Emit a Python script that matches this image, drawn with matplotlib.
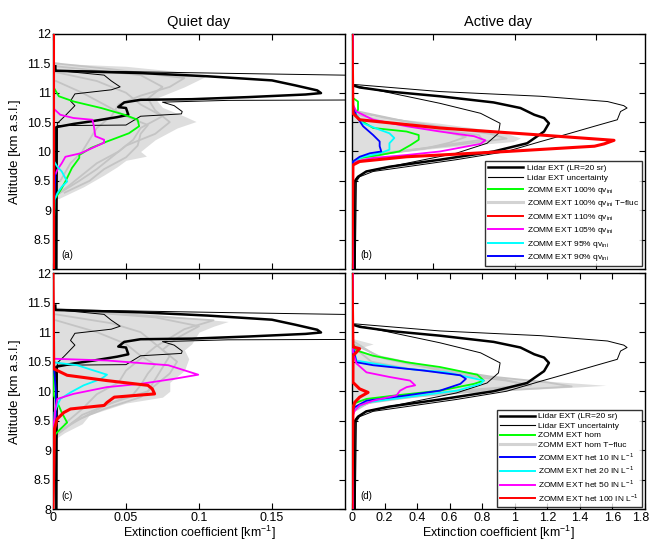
import matplotlib
matplotlib.use('Agg')
from matplotlib import pyplot as plt
import matplotlib.transforms as mtransforms
import numpy as np

plt.rcParams['font.family'] = ['Liberation Sans', 'DejaVu Sans']
plt.rcParams['mathtext.fontset'] = 'custom'
plt.rcParams['mathtext.rm'] = 'Liberation Sans'

# ---------------- quiet day: lidar (shared by a and c) ----------------
quiet_lidar_alt = [8.0, 10.415, 10.47, 10.52, 10.585, 10.625, 10.74, 10.756, 10.835, 10.88, 10.89,
                   10.926, 10.97, 10.994, 11.04, 11.125, 11.21, 11.28, 11.335, 11.375, 11.45]
quiet_lidar_ext = [0.0023, 0.0023, 0.0143, 0.028, 0.044, 0.0516, 0.050, 0.0447, 0.0488, 0.060, 0.095,
                   0.134, 0.173, 0.1836, 0.181, 0.166, 0.150, 0.106, 0.060, 0.0016, 0.0016]
quiet_unc_hi_alt = [8.0, 10.44, 10.45, 10.6, 10.64, 10.68, 10.78, 10.84, 10.87, 10.88, 11.0, 11.28, 11.33, 11.38, 11.45]
quiet_unc_hi_ext = [0.0025, 0.003, 0.05, 0.06, 0.088, 0.0885, 0.083, 0.075, 0.12, 0.25, 0.35, 0.25, 0.12, 0.002, 0.0016]
quiet_unc_lo_alt = [8.0, 10.48, 10.6, 10.78, 10.86, 10.98, 11.05, 11.1, 11.2, 11.3, 11.38]
quiet_unc_lo_ext = [0.002, 0.003, 0.008, 0.015, 0.012, 0.015, 0.040, 0.046, 0.040, 0.035, 0.002]

# ---------------- active day: lidar (shared by b and d) ----------------
active_lidar_alt = [8.0, 9.49, 9.57, 9.66, 9.74, 9.86, 10.0, 10.14, 10.34, 10.48, 10.57, 10.625,
                    10.74, 10.835, 10.94, 11.02, 11.09, 11.125]
active_lidar_ext = [0.016, 0.016, 0.037, 0.088, 0.23, 0.54, 0.87, 1.076, 1.18, 1.21, 1.18, 1.12,
                    1.035, 0.87, 0.54, 0.23, 0.047, 0.006]
active_unc_hi_alt = [8.0, 9.49, 9.57, 9.66, 9.74, 9.86, 10.0, 10.17, 10.31, 10.43, 10.54, 10.68,
                     10.74, 10.78, 10.85, 10.94, 11.02, 11.14]
active_unc_hi_ext = [0.02, 0.027, 0.047, 0.13, 0.335, 0.64, 0.95, 1.16, 1.34, 1.49, 1.63, 1.65,
                     1.69, 1.67, 1.57, 1.16, 0.54, 0.016]
active_unc_lo_alt = [8.0, 9.46, 9.545, 9.66, 9.80, 9.97, 10.14, 10.31, 10.48, 10.65, 10.82, 11.0, 11.125]
active_unc_lo_ext = [0.01, 0.016, 0.027, 0.088, 0.335, 0.64, 0.83, 0.90, 0.91, 0.79, 0.54, 0.23, 0.01]

# ---------------- (a) quiet day, qv_ini experiments ----------------
a_env_alt = [11.5, 11.45, 11.35, 11.27, 11.1, 10.9, 10.75, 10.6, 10.51, 10.4, 10.2, 10.0, 9.92,
             9.85, 9.74, 9.6, 9.4, 9.2]
a_env_ext = [0.002, 0.05, 0.09, 0.104, 0.09, 0.07, 0.075, 0.09, 0.098, 0.085, 0.07, 0.06, 0.064,
             0.05, 0.044, 0.035, 0.021, 0.004]
a_gray_alt = [
    [11.45, 11.3, 11.1, 10.9, 10.7, 10.5, 10.3, 10.1, 9.9, 9.7, 9.5, 9.3],
    [11.35, 11.2, 11.0, 10.8, 10.6, 10.4, 10.2, 10.0, 9.8, 9.6, 9.4, 9.25],
    [11.2, 11.0, 10.8, 10.6, 10.45, 10.3, 10.1, 9.9, 9.7, 9.5, 9.3],
    [11.5, 11.4, 11.25, 11.1, 10.95, 10.8, 10.6, 10.4, 10.2, 10.0, 9.8, 9.5],
]
a_gray_ext = [
    [0.002, 0.06, 0.075, 0.065, 0.07, 0.08, 0.07, 0.05, 0.04, 0.03, 0.018, 0.005],
    [0.002, 0.03, 0.05, 0.06, 0.075, 0.06, 0.055, 0.045, 0.03, 0.02, 0.01, 0.002],
    [0.002, 0.02, 0.035, 0.05, 0.065, 0.06, 0.058, 0.05, 0.035, 0.025, 0.008],
    [0.002, 0.04, 0.09, 0.08, 0.06, 0.045, 0.04, 0.03, 0.025, 0.02, 0.012, 0.005],
]
a_green_alt = [11.11, 10.94, 10.85, 10.74, 10.625, 10.54, 10.43, 10.31, 10.17, 10.06, 9.94, 9.89,
               9.72, 9.49, 9.375, 9.18, 8.0]
a_green_ext = [0.0, 0.004, 0.0143, 0.033, 0.049, 0.058, 0.059, 0.052, 0.037, 0.026, 0.018, 0.018,
               0.013, 0.0085, 0.006, 0.001, 0.0]
a_magenta_alt = [10.74, 10.625, 10.57, 10.54, 10.43, 10.26, 10.2, 10.15, 9.97, 9.91, 9.8, 9.69, 9.57, 8.0]
a_magenta_ext = [0.0, 0.005, 0.014, 0.027, 0.028, 0.029, 0.035, 0.035, 0.019, 0.0085, 0.006, 0.003, 0.001, 0.0]
a_cyan_alt = [9.86, 9.74, 9.66, 9.49, 9.40, 9.29, 9.18, 8.0]
a_cyan_ext = [0.0, 0.003, 0.006, 0.0097, 0.006, 0.003, 0.001, 0.0]
a_blue_alt = [9.74, 9.57, 9.35, 8.0]
a_blue_ext = [0.0, 0.0016, 0.001, 0.0]
a_red_alt = [12.0, 8.0]
a_red_ext = [0.0, 0.0]

# ---------------- (b) active day, qv_ini experiments ----------------
b_env_alt = [10.71, 10.6, 10.48, 10.34, 10.23, 10.17, 10.06, 9.97, 9.86, 9.77]
b_env_ext = [0.006, 0.13, 0.54, 0.91, 1.035, 0.99, 0.54, 0.23, 0.088, 0.006]
b_gray_alt = [
    [10.68, 10.55, 10.4, 10.3, 10.22, 10.1, 9.98, 9.85],
    [10.7, 10.5, 10.35, 10.25, 10.15, 10.05, 9.95, 9.8],
    [10.65, 10.5, 10.4, 10.28, 10.2, 10.08, 9.95, 9.82],
]
b_gray_ext = [
    [0.006, 0.25, 0.6, 0.85, 0.95, 0.6, 0.2, 0.01],
    [0.006, 0.35, 0.55, 0.7, 0.6, 0.45, 0.15, 0.006],
    [0.006, 0.2, 0.45, 0.78, 0.8, 0.5, 0.18, 0.006],
]
b_green_alt = [12.0, 10.91, 10.85, 10.71, 10.625, 10.54, 10.4, 10.34, 10.28, 10.2, 10.11, 10.0, 9.94, 9.89, 9.8, 8.0]
b_green_ext = [0.006, 0.006, 0.037, 0.037, 0.016, 0.047, 0.13, 0.335, 0.41, 0.41, 0.36, 0.29, 0.17, 0.047, 0.006, 0.006]
b_magenta_alt = [12.0, 10.8, 10.68, 10.54, 10.43, 10.34, 10.26, 10.19, 10.13, 10.0, 9.94, 9.89, 9.83, 9.77, 8.0]
b_magenta_ext = [0.006, 0.006, 0.027, 0.13, 0.335, 0.54, 0.75, 0.82, 0.79, 0.54, 0.335, 0.13, 0.027, 0.006, 0.006]
b_cyan_alt = [12.0, 10.77, 10.625, 10.48, 10.37, 10.31, 10.23, 10.14, 10.03, 9.97, 9.91, 9.83, 8.0]
b_cyan_ext = [0.006, 0.006, 0.027, 0.068, 0.17, 0.23, 0.26, 0.23, 0.23, 0.17, 0.068, 0.006, 0.006]
b_blue_alt = [12.0, 10.77, 10.6, 10.43, 10.28, 10.17, 10.09, 10.0, 9.97, 9.91, 9.83, 8.0]
b_blue_ext = [0.006, 0.006, 0.027, 0.068, 0.13, 0.17, 0.17, 0.18, 0.11, 0.047, 0.006, 0.006]
b_red_alt = [12.0, 10.65, 10.54, 10.4, 10.28, 10.19, 10.13, 10.09, 10.0, 9.91, 9.83, 9.77, 8.0]
b_red_ext = [0.0, 0.006, 0.047, 0.54, 1.16, 1.61, 1.55, 1.49, 0.95, 0.335, 0.047, 0.006, 0.0]

# ---------------- (c) quiet day, IN experiments ----------------
c_env_alt = [11.4, 11.35, 11.25, 11.18, 11.1, 11.0, 10.8, 10.7, 10.55, 10.35, 10.15, 10.0, 9.9,
             9.8, 9.6, 9.45, 9.3, 9.2]
c_env_ext = [0.002, 0.05, 0.09, 0.12, 0.11, 0.1, 0.095, 0.09, 0.093, 0.09, 0.08, 0.08, 0.075,
             0.05, 0.025, 0.02, 0.008, 0.002]
c_gray_alt = [
    [11.38, 11.25, 11.1, 10.9, 10.7, 10.5, 10.3, 10.1, 9.9, 9.7, 9.5, 9.3],
    [11.3, 11.15, 11.0, 10.8, 10.6, 10.4, 10.2, 10.0, 9.8, 9.6, 9.4, 9.25],
    [11.2, 11.0, 10.8, 10.6, 10.45, 10.3, 10.1, 9.95, 9.75, 9.55, 9.35],
    [11.4, 11.3, 11.2, 11.05, 10.9, 10.75, 10.55, 10.35, 10.15, 9.95, 9.7, 9.45],
]
c_gray_ext = [
    [0.002, 0.07, 0.1, 0.085, 0.075, 0.085, 0.08, 0.07, 0.06, 0.035, 0.015, 0.004],
    [0.002, 0.04, 0.06, 0.07, 0.08, 0.075, 0.07, 0.065, 0.04, 0.02, 0.01, 0.002],
    [0.002, 0.03, 0.05, 0.06, 0.07, 0.065, 0.06, 0.055, 0.035, 0.02, 0.006],
    [0.002, 0.05, 0.11, 0.09, 0.08, 0.07, 0.06, 0.05, 0.045, 0.03, 0.02, 0.008],
]
c_green_alt = [12.0, 10.38, 9.93, 9.81, 9.64, 9.47, 9.36, 9.27, 9.19, 8.0]
c_green_ext = [0.0, 0.0, 0.0005, 0.003, 0.006, 0.0097, 0.005, 0.0016, 0.001, 0.0]
c_blue_alt = [12.0, 10.44, 10.0, 9.6, 9.4, 8.0]
c_blue_ext = [0.0, 0.0005, 0.002, 0.002, 0.001, 0.0]
c_cyan_alt = [12.0, 10.49, 10.44, 10.35, 10.28, 10.21, 10.1, 9.98, 9.87, 9.76, 9.64, 8.0]
c_cyan_ext = [0.0, 0.0, 0.0166, 0.028, 0.037, 0.033, 0.021, 0.012, 0.005, 0.003, 0.001, 0.0]
c_magenta_alt = [12.0, 10.55, 10.52, 10.44, 10.28, 10.21, 10.125, 10.07, 9.955, 9.87, 9.7, 9.53, 9.41, 8.0]
c_magenta_ext = [0.0, 0.0, 0.037, 0.079, 0.0995, 0.083, 0.06, 0.037, 0.014, 0.003, 0.0016, 0.001, 0.0, 0.0]
c_red_alt = [12.0, 10.38, 10.27, 10.18, 10.1, 10.04, 9.955, 9.9, 9.81, 9.76, 9.70, 9.64, 9.53, 9.36, 8.0]
c_red_ext = [0.0, 0.0005, 0.0097, 0.037, 0.065, 0.068, 0.0696, 0.042, 0.037, 0.035, 0.012, 0.0074, 0.0028, 0.001, 0.0]

# ---------------- (d) active day, IN experiments ----------------
d_env_alt = [10.89, 10.8, 10.72, 10.55, 10.38, 10.27, 10.18, 10.1, 10.07, 10.01, 9.955, 9.9, 9.81, 9.7, 9.61]
d_env_ext = [0.006, 0.13, 0.03, 0.2, 0.54, 0.79, 1.16, 1.56, 1.37, 0.95, 0.54, 0.23, 0.088, 0.027, 0.006]
d_gray_alt = [
    [10.85, 10.6, 10.4, 10.25, 10.15, 10.08, 9.98, 9.85, 9.7],
    [10.8, 10.55, 10.35, 10.22, 10.12, 10.04, 9.95, 9.8, 9.65],
    [10.75, 10.5, 10.38, 10.28, 10.18, 10.1, 10.0, 9.88, 9.72],
]
d_gray_ext = [
    [0.006, 0.15, 0.5, 0.85, 1.2, 1.35, 0.7, 0.15, 0.01],
    [0.006, 0.2, 0.55, 0.9, 1.05, 0.9, 0.5, 0.1, 0.006],
    [0.006, 0.12, 0.35, 0.65, 0.95, 1.1, 0.6, 0.2, 0.006],
]
d_green_alt = [12.0, 10.8, 10.69, 10.6, 10.49, 10.41, 10.28, 10.18, 10.125, 10.01, 9.93, 9.87, 9.81, 9.76, 8.0]
d_green_ext = [0.006, 0.006, 0.027, 0.13, 0.336, 0.54, 0.77, 0.81, 0.75, 0.54, 0.27, 0.089, 0.027, 0.006, 0.006]
d_blue_alt = [12.0, 10.75, 10.49, 10.44, 10.35, 10.27, 10.21, 10.125, 10.01, 9.93, 9.84, 9.73, 9.67, 8.0]
d_blue_ext = [0.006, 0.006, 0.027, 0.13, 0.44, 0.666, 0.70, 0.666, 0.54, 0.336, 0.089, 0.016, 0.006, 0.006]
d_cyan_alt = [12.0, 10.78, 10.52, 10.47, 10.38, 10.32, 10.18, 10.125, 10.01, 9.9, 9.81, 9.7, 9.64, 8.0]
d_cyan_ext = [0.006, 0.006, 0.027, 0.13, 0.336, 0.58, 0.81, 0.79, 0.645, 0.336, 0.089, 0.016, 0.006, 0.006]
d_magenta_alt = [12.0, 10.66, 10.47, 10.32, 10.24, 10.18, 10.1, 10.07, 10.01, 9.93, 9.84, 9.76, 9.67, 9.59, 8.0]
d_magenta_ext = [0.006, 0.006, 0.027, 0.089, 0.233, 0.357, 0.388, 0.336, 0.295, 0.274, 0.13, 0.047, 0.016, 0.006, 0.006]
d_red_alt = [12.0, 10.75, 10.72, 10.66, 10.6, 10.15, 10.04, 9.98, 9.9, 9.81, 9.7, 8.0]
d_red_ext = [0.0, 0.006, 0.047, 0.027, 0.006, 0.006, 0.047, 0.099, 0.047, 0.016, 0.006, 0.0]

titles = ['Quiet day', 'Active day']
legend_qv = ['Lidar EXT (LR=20 sr)', 'Lidar EXT uncertainty',
             'ZOMM EXT 100% qv$_{\\rm ini}$', 'ZOMM EXT 100% qv$_{\\rm ini}$ T\u2212fluc',
             'ZOMM EXT 110% qv$_{\\rm ini}$', 'ZOMM EXT 105% qv$_{\\rm ini}$',
             'ZOMM EXT 95% qv$_{\\rm ini}$', 'ZOMM EXT 90% qv$_{\\rm ini}$']
legend_in = ['Lidar EXT (LR=20 sr)', 'Lidar EXT uncertainty',
             'ZOMM EXT hom', 'ZOMM EXT hom T\u2212fluc',
             'ZOMM EXT het 10 IN L$^{-1}$', 'ZOMM EXT het 20 IN L$^{-1}$',
             'ZOMM EXT het 50 IN L$^{-1}$', 'ZOMM EXT het 100 IN L$^{-1}$']

GRAYFILL = '#dedede'
GRAYLINE = '#c4c4c4'


def draw_panel(ax, env, grays, lidar, unc_hi, unc_lo, colored):
    ax.fill_betweenx(env[0], 0, env[1], color=GRAYFILL, lw=0, zorder=1)
    for galt, gext in zip(*grays):
        ax.plot(gext, galt, color=GRAYLINE, lw=1.3, zorder=2)
    ax.plot(lidar[1], lidar[0], color='k', lw=1.8, zorder=4)
    ax.plot(unc_hi[1], unc_hi[0], color='k', lw=0.7, zorder=4)
    ax.plot(unc_lo[1], unc_lo[0], color='k', lw=0.7, zorder=4)
    for (calt, cext), col in colored:
        lw = 2.2 if col == 'red' else 1.3
        ax.plot(cext, calt, color=col, lw=lw, zorder=5)


def style(ax, xlim, xticks, xlabels, ylabels):
    ax.set_xlim(xlim)
    ax.set_ylim(8, 12)
    ax.set_xticks(xticks)
    ax.set_xticklabels(xlabels)
    ax.set_yticks(np.arange(8, 12.01, 0.5))
    ax.set_yticklabels(ylabels)
    ax.tick_params(direction='in', top=True, right=True, length=4, width=0.8, labelsize=9, pad=1.5)
    for s in ax.spines.values():
        s.set_linewidth(1.0)


fig = plt.figure(figsize=(6.51, 5.42), dpi=100)
ax_a = fig.add_axes([0.0814, 0.5037, 0.4485, 0.4336])
ax_b = fig.add_axes([0.5407, 0.5037, 0.4500, 0.4336])
ax_c = fig.add_axes([0.0814, 0.0600, 0.4485, 0.4363])
ax_d = fig.add_axes([0.5407, 0.0600, 0.4500, 0.4363])

quiet = ((quiet_lidar_alt, quiet_lidar_ext), (quiet_unc_hi_alt, quiet_unc_hi_ext), (quiet_unc_lo_alt, quiet_unc_lo_ext))
active = ((active_lidar_alt, active_lidar_ext), (active_unc_hi_alt, active_unc_hi_ext), (active_unc_lo_alt, active_unc_lo_ext))

draw_panel(ax_a, (a_env_alt, a_env_ext), (a_gray_alt, a_gray_ext), *quiet,
           [((a_green_alt, a_green_ext), 'lime'), ((a_magenta_alt, a_magenta_ext), 'magenta'),
            ((a_cyan_alt, a_cyan_ext), 'cyan'), ((a_blue_alt, a_blue_ext), 'blue'),
            ((a_red_alt, a_red_ext), 'red')])
draw_panel(ax_b, (b_env_alt, b_env_ext), (b_gray_alt, b_gray_ext), *active,
           [((b_green_alt, b_green_ext), 'lime'), ((b_cyan_alt, b_cyan_ext), 'cyan'),
            ((b_blue_alt, b_blue_ext), 'blue'), ((b_magenta_alt, b_magenta_ext), 'magenta'),
            ((b_red_alt, b_red_ext), 'red')])
draw_panel(ax_c, (c_env_alt, c_env_ext), (c_gray_alt, c_gray_ext), *quiet,
           [((c_green_alt, c_green_ext), 'lime'), ((c_blue_alt, c_blue_ext), 'blue'),
            ((c_cyan_alt, c_cyan_ext), 'cyan'), ((c_magenta_alt, c_magenta_ext), 'magenta'),
            ((c_red_alt, c_red_ext), 'red')])
draw_panel(ax_d, (d_env_alt, d_env_ext), (d_gray_alt, d_gray_ext), *active,
           [((d_green_alt, d_green_ext), 'lime'), ((d_cyan_alt, d_cyan_ext), 'cyan'),
            ((d_blue_alt, d_blue_ext), 'blue'), ((d_magenta_alt, d_magenta_ext), 'magenta'),
            ((d_red_alt, d_red_ext), 'red')])

ylab_full = ['8', '8.5', '9', '9.5', '10', '10.5', '11', '11.5', '12']
ylab_top = [''] + ylab_full[1:]
q_ticks = [0, 0.05, 0.1, 0.15]
a_ticks = np.arange(0, 1.81, 0.2)
style(ax_a, (0, 0.2), q_ticks, [''] * 4, ylab_top)
style(ax_c, (0, 0.2), q_ticks, ['0', '0.05', '0.1', '0.15'], ylab_full)
style(ax_b, (0, 1.8), [0, 0.5, 1.0, 1.5], [''] * 4, [''] * 9)
style(ax_d, (0, 1.8), a_ticks, ['0', '0.2', '0.4', '0.6', '0.8', '1', '1.2', '1.4', '1.6', '1.8'], [''] * 9)
# nudge the last tick label a little left so it stays inside the figure
last = ax_d.get_xticklabels()[-1]
last.set_transform(last.get_transform() + mtransforms.ScaledTranslation(-3 / 72, 0, fig.dpi_scale_trans))

ax_a.set_title(titles[0], fontsize=10.5, pad=6)
ax_b.set_title(titles[1], fontsize=10.5, pad=6)
for ax in (ax_a, ax_c):
    ax.set_ylabel('Altitude [km a.s.l.]', fontsize=9.5, labelpad=4)
for ax in (ax_c, ax_d):
    ax.set_xlabel('Extinction coefficient [km$^{-1}$]', fontsize=9, labelpad=0)

for ax, lab in zip((ax_a, ax_b, ax_c, ax_d), ['(a)', '(b)', '(c)', '(d)']):
    ax.text(0.03, 0.045, lab, transform=ax.transAxes, fontsize=7, zorder=10)

# legends
def make_handles(colors):
    hs = [plt.Line2D([], [], color='k', lw=1.8), plt.Line2D([], [], color='k', lw=0.8)]
    for c in colors:
        lw = 2.2 if c == '#d3d3d3' else 1.4
        hs.append(plt.Line2D([], [], color=c, lw=lw))
    return hs

for ax, labels, cols, sp in ((ax_b, legend_qv, ['lime', '#d3d3d3', 'red', 'magenta', 'cyan', 'blue'], 0.3),
                             (ax_d, legend_in, ['lime', '#d3d3d3', 'blue', 'cyan', 'magenta', 'red'], 0.2)):
    leg = ax.legend(make_handles(cols), labels, loc='lower right', fontsize=6,
                    frameon=True, fancybox=False, borderaxespad=0.35, handlelength=4.2,
                    labelspacing=sp, borderpad=0.35, handletextpad=0.4)
    leg.get_frame().set_edgecolor('k')
    leg.get_frame().set_linewidth(1.0)
    leg.set_zorder(20)

fig.savefig('out.png', dpi=100)
